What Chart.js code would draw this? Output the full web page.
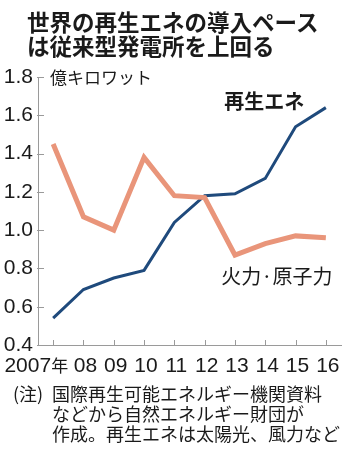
<!DOCTYPE html>
<html>
<head>
<meta charset="utf-8">
<script src="https://cdn.jsdelivr.net/npm/chart.js@4"></script>
<style>
  html, body { margin: 0; padding: 0; background: #fff; }
  #wrap { position: relative; width: 348px; height: 450px; overflow: hidden; }
  #c { position: absolute; left: 0; top: 0; }
  .cjk { font-family: 'Noto Sans CJK JP', 'Noto Sans', sans-serif; color: #1a1a1a; }
  #title { position: absolute; left: 27px; top: 9px; font-size: 22.5px; font-weight: 700; line-height: 24px; white-space: nowrap; }
  #note { position: absolute; left: 13px; top: 383px; font-size: 18px; line-height: 20px; display: flex; white-space: nowrap; }
  #note .lead { width: 39px; }
</style>
</head>
<body>
<div id="wrap">
  <canvas id="c" width="348" height="450"></canvas>
  <div id="title" class="cjk">世界の再生エネの導入ペース<br>は従来型発電所を上回る</div>
  <div id="note" class="cjk"><span class="lead">(注)</span><span>国際再生可能エネルギー機関資料<br>などから自然エネルギー財団が<br>作成。再生エネは太陽光、風力など</span></div>
</div>
<script>
// 単位: 億キロワット
const YEARS = ['2007年', '08', '09', '10', '11', '12', '13', '14', '15', '16'];
const RENEW = [0.54, 0.69, 0.75, 0.79, 1.04, 1.18, 1.19, 1.27, 1.54, 1.64];
const THERMAL = [1.45, 1.07, 1.00, 1.38, 1.18, 1.17, 0.87, 0.93, 0.97, 0.96];
const Y_TICKS = [0.4, 0.6, 0.8, 1.0, 1.2, 1.4, 1.6, 1.8];

const NARROW = "'Liberation Sans Narrow', 'Arial Narrow', 'Liberation Sans', sans-serif";
const CJK = "'Noto Sans CJK JP', 'Noto Sans', sans-serif";
const AXIS = '#9a9a9a', INK = '#1a1a1a';
const BLUE = '#1f4a7c', SALMON = '#e9957a';

Chart.defaults.animation = false;

// 内向きの目盛り、x軸ラベル、注記を描く
const decor = {
  id: 'decor',
  afterDraw(chart) {
    const { ctx, chartArea: a, scales: { x, y } } = chart;
    ctx.save();
    ctx.strokeStyle = AXIS;
    ctx.lineWidth = 1;
    ctx.beginPath();
    Y_TICKS.forEach(v => {
      const py = Math.round(y.getPixelForValue(v)) + 0.5;
      ctx.moveTo(a.left - 1, py); ctx.lineTo(a.left + 6, py);
    });
    YEARS.forEach((_, i) => {
      const px = Math.round(x.getPixelForValue(i)) + 0.5;
      ctx.moveTo(px, a.bottom); ctx.lineTo(px, a.bottom - 5);
    });
    ctx.stroke();

    ctx.fillStyle = INK;
    ctx.textBaseline = 'top';
    YEARS.forEach((lab, i) => {
      const px = x.getPixelForValue(i);
      ctx.font = `21px ${NARROW}`;
      if (i === 0) {
        // 「2007年」は左に寄せる
        ctx.textAlign = 'right';
        ctx.fillText('2007', px - 2, a.bottom + 11);
        ctx.font = `17px ${CJK}`;
        ctx.textAlign = 'left';
        ctx.fillText('年', px - 2, a.bottom + 12);
      } else {
        ctx.textAlign = 'center';
        ctx.fillText(lab, px + 2, a.bottom + 11);
      }
    });

    ctx.textBaseline = 'middle';
    ctx.textAlign = 'left';
    ctx.font = `17px ${CJK}`;
    ctx.fillText('億キロワット', a.left + 12, y.getPixelForValue(1.8) + 1);
    ctx.font = `bold 20px ${CJK}`;
    ctx.fillText('再生エネ', x.getPixelForValue(5.65), y.getPixelForValue(1.67));
    ctx.font = `20px ${CJK}`;
    ctx.fillText('火力·原子力', x.getPixelForValue(5.55), y.getPixelForValue(0.76));
    ctx.restore();
  }
};

new Chart(document.getElementById('c'), {
  type: 'line',
  data: {
    labels: YEARS,
    datasets: [
      { label: '火力・原子力', data: THERMAL, borderColor: SALMON, borderWidth: 5, pointRadius: 0, tension: 0, borderJoinStyle: 'miter', borderCapStyle: 'butt' },
      { label: '再生エネ', data: RENEW, borderColor: BLUE, borderWidth: 3, pointRadius: 0, tension: 0, borderJoinStyle: 'miter', borderCapStyle: 'butt' },
    ],
  },
  options: {
    responsive: false,
    layout: { padding: { top: 77, left: 0, right: 7, bottom: 0 } },
    plugins: { legend: { display: false }, tooltip: { enabled: false }, title: { display: false } },
    scales: {
      x: {
        type: 'category', offset: true,
        grid: { display: false, offset: false },
        border: { display: true, color: AXIS, width: 1 },
        ticks: { display: false },
        afterFit: s => { s.height = 105; },
      },
      y: {
        min: 0.4, max: 1.8,
        afterBuildTicks: s => { s.ticks = Y_TICKS.map(v => ({ value: v })); },
        grid: { display: false, drawTicks: false },
        border: { display: true, color: AXIS, width: 1 },
        ticks: { padding: 5, color: INK, font: { family: NARROW, size: 21 }, callback: v => v.toFixed(1) },
        afterFit: s => { s.width = 38; },
      },
    },
  },
  plugins: [decor],
});
</script>
</body>
</html>
